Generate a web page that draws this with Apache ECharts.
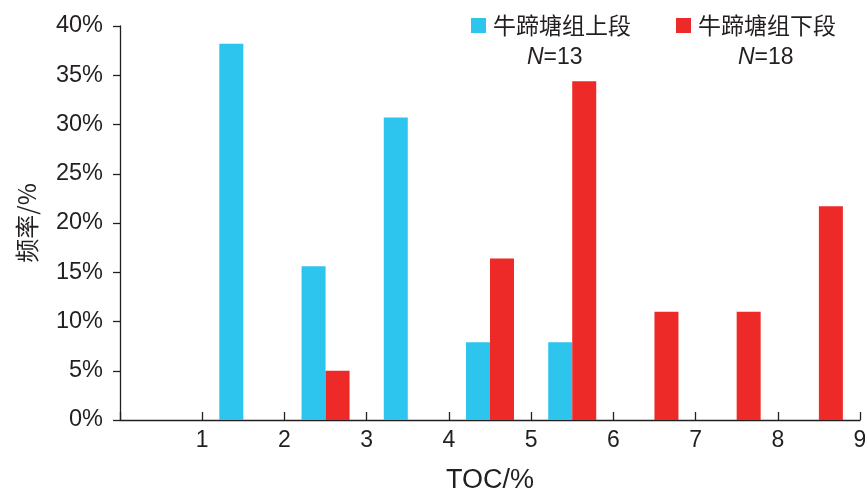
<!DOCTYPE html>
<html>
<head>
<meta charset="utf-8">
<script src="https://cdn.jsdelivr.net/npm/echarts@6/dist/echarts.min.js"></script>
<style>
html,body{margin:0;padding:0;background:#fff;}
#chart{width:865px;height:494px;}
</style>
</head>
<body>
<div id="chart"></div>
<script>
// TOC bins: each bin runs from binStart to binStart+1 (%)
const binStarts = [1, 2, 3, 4, 5, 6, 7, 8];
const seriesNames = ['牛蹄塘组上段', '牛蹄塘组下段'];
const sampleCounts = [13, 18];
// frequency (%) per bin
const upperFreq = [38.2, 15.6, 30.7, 7.9, 7.9, null, null, null];
const lowerFreq = [null, 5.0, null, 16.4, 34.4, 11.0, 11.0, 21.7];
const xTicks = [0, 1, 2, 3, 4, 5, 6, 7, 8, 9];
const yTicks = [0, 5, 10, 15, 20, 25, 30, 35, 40];

const FONT = '"Liberation Sans", Arial, "Noto Sans CJK SC", sans-serif';
const TXT = '#231f20';

function toPairs(vals) {
  return binStarts.map((b, i) => [b + 0.5, vals[i]]);
}

const chart = echarts.init(document.getElementById('chart'));
chart.setOption({
  animation: false,
  textStyle: { fontFamily: FONT, color: TXT },
  grid: { left: 120, right: 5, top: 26, bottom: 74, containLabel: false, outerBoundsMode: 'none' },
  legend: {
    left: 466, top: 9,
    itemWidth: 15, itemHeight: 15, itemGap: 45,
    icon: 'rect',
    textStyle: { fontSize: 23, color: TXT, fontFamily: '"Noto Sans CJK SC", sans-serif', padding: [0, 0, 0, 2] },
    data: seriesNames
  },
  graphic: [
    { type: 'text', left: 527, top: 46, style: { text: '{i|N}=' + sampleCounts[0], fill: TXT, font: '23px ' + FONT, rich: { i: { fontStyle: 'italic', fontSize: 23, fontFamily: FONT, fill: TXT } } } },
    { type: 'text', left: 738, top: 46, style: { text: '{i|N}=' + sampleCounts[1], fill: TXT, font: '23px ' + FONT, rich: { i: { fontStyle: 'italic', fontSize: 23, fontFamily: FONT, fill: TXT } } } }
  ],
  xAxis: {
    type: 'value',
    min: xTicks[0], max: xTicks[xTicks.length - 1], interval: 1,
    name: 'TOC/%', nameLocation: 'middle', nameGap: 47,
    nameTextStyle: { fontSize: 27, color: TXT, fontFamily: FONT },
    axisLine: { show: true, lineStyle: { color: '#231f20', width: 1.3 } },
    axisTick: { show: true, inside: true, length: 8, lineStyle: { color: '#231f20', width: 1.3 } },
    axisLabel: { fontSize: 23, color: TXT, margin: 9, fontFamily: FONT,
      formatter: v => (v === 0 ? '' : String(v)) },
    splitLine: { show: false }
  },
  yAxis: {
    type: 'value',
    min: yTicks[0], max: yTicks[yTicks.length - 1], interval: 5,
    name: '频率/%', nameLocation: 'middle', nameGap: 81, nameRotate: 90,
    nameTextStyle: { fontSize: 24, color: TXT, fontFamily: '"Noto Sans CJK SC", sans-serif' },
    axisLine: { show: true, lineStyle: { color: '#231f20', width: 1.3 } },
    axisTick: { show: true, inside: false, length: 7, lineStyle: { color: '#231f20', width: 1.3 } },
    axisLabel: { fontSize: 23.5, color: TXT, margin: 17, fontFamily: FONT, formatter: v => v + '%' },
    splitLine: { show: false }
  },
  series: [
    { name: seriesNames[0], type: 'bar', data: toPairs(upperFreq), barWidth: 24, barGap: '0%',
      itemStyle: { color: '#2dc4ed' } },
    { name: seriesNames[1], type: 'bar', data: toPairs(lowerFreq), barWidth: 24, barGap: '0%',
      itemStyle: { color: '#ee2a28' } }
  ]
});
</script>
</body>
</html>
